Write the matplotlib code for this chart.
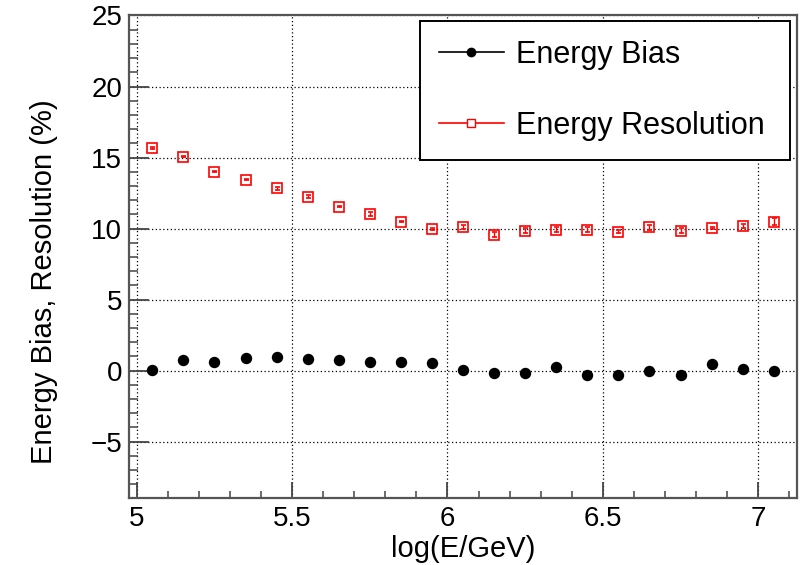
import numpy as np
import matplotlib
matplotlib.use('Agg')
import matplotlib.pyplot as plt
from matplotlib.lines import Line2D
from matplotlib.ticker import MultipleLocator

plt.rcParams['font.family'] = ['Liberation Sans', 'DejaVu Sans']

# bin centres in log10(E/GeV)
log_e = [5.05, 5.15, 5.25, 5.35, 5.45, 5.55, 5.65, 5.75, 5.85, 5.95, 6.05,
         6.15, 6.25, 6.35, 6.45, 6.55, 6.65, 6.75, 6.85, 6.95, 7.05]

# energy bias (%) and its error
bias = [0.05, 0.78, 0.61, 0.92, 0.94, 0.82, 0.78, 0.61, 0.61, 0.52, 0.06,
        -0.15, -0.14, 0.24, -0.30, -0.30, 0.00, -0.30, 0.49, 0.09, 0.00]
bias_err = [0.05, 0.05, 0.05, 0.05, 0.06, 0.06, 0.07, 0.08, 0.08, 0.09, 0.10,
            0.11, 0.12, 0.13, 0.14, 0.15, 0.16, 0.17, 0.18, 0.19, 0.20]

# energy resolution (%) and its error
resolution = [15.68, 15.07, 14.01, 13.45, 12.82, 12.25, 11.55, 11.04, 10.49, 9.96, 10.10,
              9.56, 9.86, 9.93, 9.91, 9.77, 10.10, 9.86, 10.03, 10.17, 10.49]
resolution_err = [0.08, 0.05, 0.05, 0.06, 0.10, 0.12, 0.06, 0.14, 0.06, 0.05, 0.12,
                  0.18, 0.18, 0.16, 0.18, 0.10, 0.18, 0.20, 0.06, 0.16, 0.22]

fig = plt.figure(figsize=(8.08, 5.65), dpi=100)
ax = fig.add_axes([0.1597, 0.1191, 0.8267, 0.8535])

ax.errorbar(log_e, bias, yerr=bias_err, fmt='o', color='black', ms=7.2,
            elinewidth=1, capsize=0, zorder=3)
ax.errorbar(log_e, resolution, yerr=resolution_err, fmt='s', color='red',
            mfc='none', mec='red', mew=1.2, ms=7.3, elinewidth=1, capsize=1.8,
            capthick=1, zorder=3)

ax.set_xlim(4.975, 7.125)
ax.set_ylim(-8.95, 25)
ax.xaxis.set_minor_locator(MultipleLocator(0.1))
ax.yaxis.set_minor_locator(MultipleLocator(1))
ax.set_xticks([5, 5.5, 6, 6.5, 7])
ax.set_xticklabels(['5', '5.5', '6', '6.5', '7'])
ax.set_yticks([-5, 0, 5, 10, 15, 20, 25])
ax.set_yticklabels(['\u22125', '0', '5', '10', '15', '20', '25'])

ax.grid(True, which='major', color='black', linestyle=(0, (1, 2)), linewidth=0.9)
ax.tick_params(axis='y', which='major', direction='in', length=14.5, width=1.3,
               color='#444444', labelsize=20, pad=5)
ax.tick_params(axis='y', which='minor', direction='in', length=6.5, width=1.1,
               color='#444444')
ax.tick_params(axis='x', which='major', direction='in', length=11.5, width=1.3,
               color='#444444', labelsize=20, pad=6)
ax.tick_params(axis='x', which='minor', direction='in', length=5, width=1.1,
               color='#444444')
for s in ax.spines.values():
    s.set_color('#555555')
    s.set_linewidth(1.6)

ax.set_xlabel('log(E/GeV)', fontsize=21, labelpad=2)
ax.set_ylabel('Energy Bias, Resolution (%)', fontsize=21)
ax.yaxis.set_label_coords(-0.107, 0.447)

handles = [
    Line2D([], [], color='black', lw=1.2, marker='o', ms=6),
    Line2D([], [], color='red', lw=1.2, marker='s', ms=6, mfc='white', mec='red'),
]
leg = ax.legend(handles, ['Energy Bias', 'Energy Resolution'],
                loc='upper left', bbox_to_anchor=(0.4356, 0.9886, 0.5539, 0.0),
                mode='expand', fontsize=22, frameon=True, fancybox=False,
                framealpha=1, edgecolor='black', borderpad=0.62,
                labelspacing=1.35, handlelength=2.13, handletextpad=0.38,
                borderaxespad=0)
leg.get_frame().set_linewidth(1.4)
leg.set_zorder(5)

plt.savefig('out.png', dpi=100)
